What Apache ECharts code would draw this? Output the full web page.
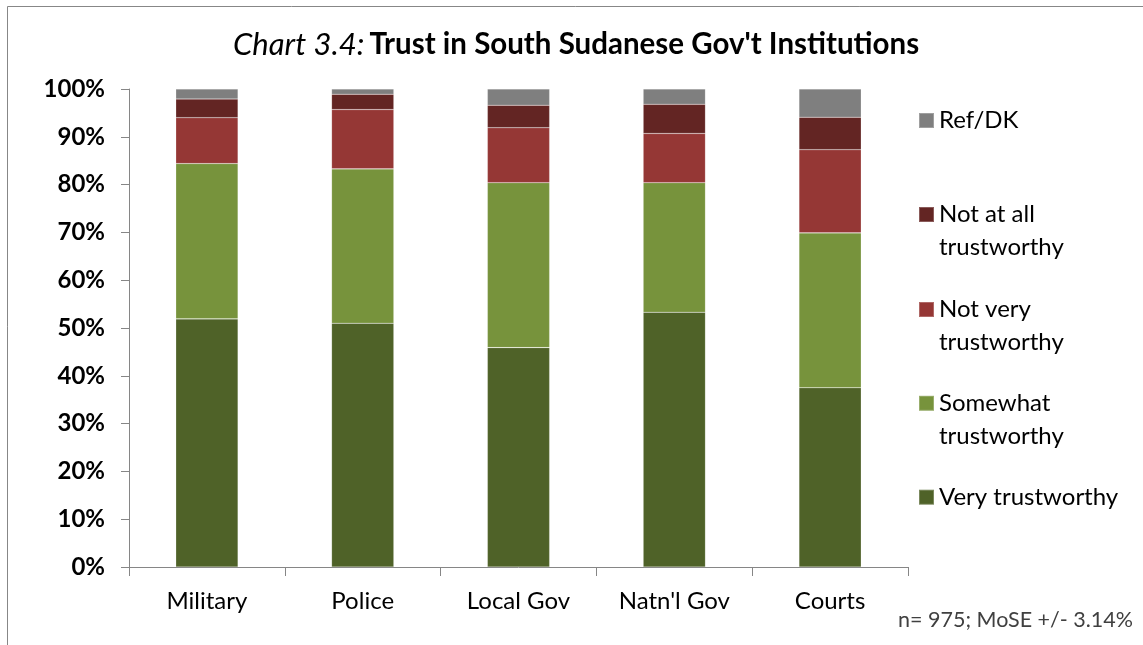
<!DOCTYPE html>
<html>
<head>
<meta charset="utf-8">
<script src="https://cdn.jsdelivr.net/npm/echarts@6/dist/echarts.min.js"></script>
<style>
  html, body { margin: 0; padding: 0; background: #fff; }
  #chart { width: 1143px; height: 645px; }
</style>
</head>
<body>
<div id="chart"></div>
<script>
// Institutions surveyed
const categories = ['Military', 'Police', 'Local Gov', "Natn'l Gov", 'Courts'];

// Share of respondents (%) per answer, stacked bottom to top
const veryTrustworthy     = [51.9, 51.0, 45.9, 53.3, 37.5];
const somewhatTrustworthy = [32.5, 32.3, 34.5, 27.1, 32.4];
const notVeryTrustworthy  = [9.6, 12.4, 11.5, 10.3, 17.4];
const notAtAllTrustworthy = [3.9, 3.2, 4.7, 6.1, 6.8];
const refDK               = [2.1, 1.1, 3.4, 3.2, 5.9];

// Y axis ticks (percent)
const yTicks = [0, 10, 20, 30, 40, 50, 60, 70, 80, 90, 100];

const FONT = 'Lato, "Open Sans", sans-serif';

const seriesDefs = [
  { name: 'Very trustworthy',        data: veryTrustworthy,     color: '#4F6228' },
  { name: 'Somewhat trustworthy',    data: somewhatTrustworthy, color: '#77933C' },
  { name: 'Not very trustworthy',    data: notVeryTrustworthy,  color: '#953735' },
  { name: 'Not at all trustworthy',  data: notAtAllTrustworthy, color: '#632523' },
  { name: 'Ref/DK',                  data: refDK,               color: '#7F7F7F' }
];

// Legend labels wrap as in the printed report; a blank leading line keeps
// the swatch level with the first line of a wrapped label.
const legendText = {
  'Ref/DK': 'Ref/DK',
  'Not at all trustworthy': '\u00a0\nNot at all\ntrustworthy',
  'Not very trustworthy': '\u00a0\nNot very\ntrustworthy',
  'Somewhat trustworthy': '\u00a0\nSomewhat\ntrustworthy',
  'Very trustworthy': 'Very trustworthy'
};
// Vertical centre of each legend swatch
const legendCentres = {
  'Ref/DK': 120.5,
  'Not at all trustworthy': 214.5,
  'Not very trustworthy': 309.5,
  'Somewhat trustworthy': 403.3,
  'Very trustworthy': 497.2
};
const LINE_H = 33;

const legends = Object.keys(legendText).map(function (name) {
  const lines = legendText[name].split('\n').length;
  const boxH = LINE_H * lines;
  return {
    data: [name],
    left: 918,
    top: legendCentres[name] - boxH / 2,
    padding: 0,
    itemWidth: 15,
    itemHeight: 15,
    itemGap: 0,
    icon: 'rect',
    selectedMode: false,
    formatter: function (n) { return legendText[n]; },
    textStyle: {
      fontFamily: FONT,
      fontSize: 24,
      color: '#000',
      lineHeight: LINE_H
    }
  };
});

const chart = echarts.init(document.getElementById('chart'), null, { renderer: 'canvas' });

chart.setOption({
  animation: false,
  backgroundColor: '#fff',
  title: {
    text: '{i|Chart 3.4:} {b|Trust in South Sudanese Gov\'t Institutions}',
    left: 233,
    top: 29,
    padding: 0,
    textStyle: {
      rich: {
        i: { fontFamily: FONT, fontStyle: 'italic', fontWeight: 'normal', fontSize: 31, color: '#000' },
        b: { fontFamily: FONT, fontWeight: 'bold', fontSize: 29.5, color: '#000' }
      }
    }
  },
  legend: legends,
  grid: {
    left: 129,
    right: 235,
    top: 89,
    bottom: 78,
    containLabel: false
  },
  xAxis: {
    type: 'category',
    data: categories,
    axisLine: { lineStyle: { color: '#868686', width: 1 } },
    axisTick: { show: true, inside: false, length: 9, alignWithLabel: false, lineStyle: { color: '#868686' } },
    axisLabel: { fontFamily: FONT, fontSize: 24, color: '#000', margin: 22 }
  },
  yAxis: {
    type: 'value',
    min: 0,
    max: 100,
    interval: 10,
    axisLine: { show: true, lineStyle: { color: '#868686', width: 1 } },
    axisTick: { show: true, inside: false, length: 8, lineStyle: { color: '#868686' } },
    splitLine: { show: false },
    axisLabel: {
      fontFamily: FONT,
      fontSize: 24,
      fontWeight: 'bold',
      color: '#000',
      margin: 24,
      formatter: function (v) { return yTicks.indexOf(v) >= 0 ? v + '%' : ''; }
    }
  },
  series: seriesDefs.map(function (s) {
    return {
      name: s.name,
      type: 'bar',
      stack: 'total',
      data: s.data,
      barWidth: '40%',
      itemStyle: { color: s.color, borderColor: 'rgba(255,255,255,0.25)', borderWidth: 0.6 },
      emphasis: { disabled: true }
    };
  }),
  graphic: [
    {
      type: 'rect',
      silent: true,
      shape: { x: 7.5, y: 6.5, width: 1300, height: 800 },
      style: { fill: 'none', stroke: '#878787', lineWidth: 1 }
    },
    {
      type: 'text',
      right: 10,
      top: 609,
      style: {
        text: 'n= 975; MoSE +/- 3.14%',
        fontFamily: FONT,
        fontSize: 21.5,
        fill: '#404040'
      }
    }
  ]
});
</script>
</body>
</html>
